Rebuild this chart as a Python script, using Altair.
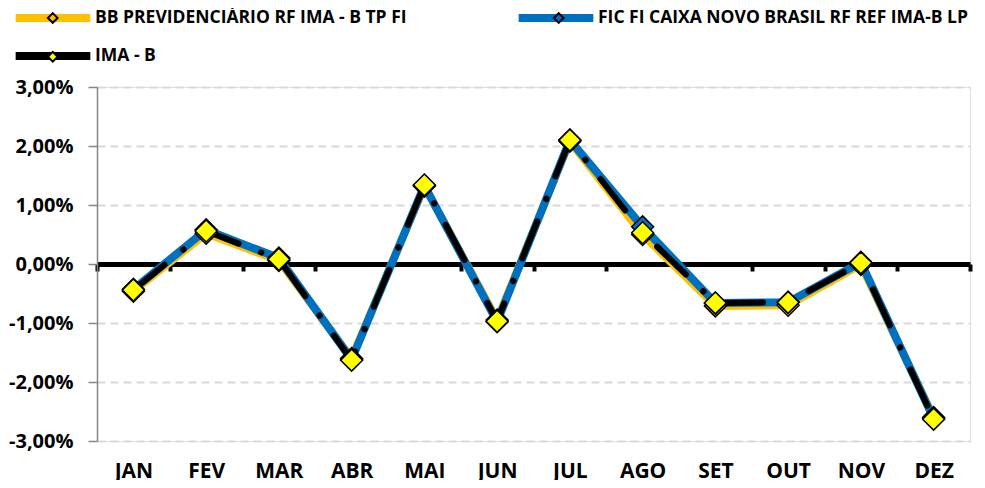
import altair as alt
import pandas as pd

months = ["JAN", "FEV", "MAR", "ABR", "MAI", "JUN", "JUL", "AGO", "SET", "OUT", "NOV", "DEZ"]
series_names = [
    "BB PREVIDENCIÁRIO RF IMA - B TP FI",
    "FIC FI CAIXA NOVO BRASIL RF REF IMA-B LP",
    "IMA - B",
]
bb_values = [-0.46, 0.52, 0.06, -1.60, 1.32, -0.95, 2.08, 0.50, -0.71, -0.70, -0.01, -2.60]
fic_values = [-0.43, 0.58, 0.10, -1.62, 1.33, -0.98, 2.10, 0.63, -0.66, -0.65, 0.03, -2.62]
ima_values = [-0.44, 0.56, 0.08, -1.63, 1.34, -0.97, 2.10, 0.53, -0.66, -0.65, 0.02, -2.63]
line_colors = ["#FFC000", "#0070C0", "#000000"]
marker_colors = ["#FFC000", "#0070C0", "#FFFF00"]
y_ticks = [-3, -2, -1, 0, 1, 2, 3]

# marker legend uses keys with a trailing space so that Vega-Lite keeps it a separate legend
marker_keys = [s + " " for s in series_names]

rows = []
for name, key, vals in zip(series_names, marker_keys, [bb_values, fic_values, ima_values]):
    for m, v in zip(months, vals):
        rows.append({"month": m, "series": name, "serie_m": key, "value": v})
df = pd.DataFrame(rows)

FONT = "Open Sans"

x_enc = alt.X(
    "month:N",
    sort=months,
    scale=alt.Scale(type="band", paddingInner=0, paddingOuter=0),
    axis=alt.Axis(
        title=None, offset=-177, domainColor="black", domainWidth=5,
        tickColor="black", tickWidth=4, tickSize=7, tickBand="extent",
        labelPadding=189, labelAngle=0, labelFont=FONT, labelFontWeight="bold",
        labelFontSize=21, labelColor="black", grid=False,
    ),
)
y_enc = alt.Y(
    "value:Q",
    scale=alt.Scale(domain=[-3, 3], nice=False),
    axis=alt.Axis(
        title=None, values=y_ticks, domainColor="#868686", domainWidth=1.5,
        tickColor="#868686", tickWidth=1.5, tickSize=9, labelPadding=15,
        labelFont=FONT, labelFontWeight="bold", labelFontSize=20, labelColor="black",
        labelExpr="replace(replace(format(datum.value, '.2f'), '.', ','), '\u2212', '-') + '%'",
        grid=True, gridColor="#D9D9D9", gridWidth=2, gridDash=[8, 5],
    ),
)

legend_common = dict(
    title=None, orient="none", direction="horizontal", columns=2, labelFont=FONT,
    labelFontWeight="bold", labelFontSize=17.5, labelLimit=600,
    padding=0, offset=0, symbolOpacity=1, labelOffset=33,
)

line_legend = alt.Legend(
    symbolType="M-7.47,0L7.47,0", symbolSize=100, symbolStrokeWidth=8,
    rowPadding=6, columnPadding=95, legendX=-53, legendY=-78,
    labelColor="black", **legend_common
)
marker_legend = alt.Legend(
    symbolType="diamond", symbolSize=94, symbolStrokeWidth=2,
    symbolStrokeColor="black", rowPadding=20, columnPadding=142,
    legendX=-53, legendY=-78,
    labelColor="transparent", labelExpr="trim(datum.label)", zindex=2, **legend_common
)

color_enc = alt.Color(
    "series:N", sort=series_names,
    scale=alt.Scale(domain=series_names, range=line_colors),
    legend=line_legend,
)

base = alt.Chart(df)

bb_line = base.transform_filter(alt.datum.series == series_names[0]).mark_line(
    strokeWidth=8, strokeJoin="round", strokeCap="round"
).encode(x=x_enc, y=y_enc, color=color_enc)
fic_line = base.transform_filter(alt.datum.series == series_names[1]).mark_line(
    strokeWidth=8, strokeJoin="round", strokeCap="round"
).encode(x=x_enc, y=y_enc, color=color_enc)
ima_line = base.transform_filter(alt.datum.series == series_names[2]).mark_line(
    strokeWidth=6, strokeJoin="round", strokeCap="round", strokeDash=[40, 24, 0.5, 24]
).encode(x=x_enc, y=y_enc, color=color_enc)

points = base.mark_point(
    shape="diamond", filled=True, size=480, stroke="black", strokeWidth=1.5, opacity=1
).encode(
    x=x_enc, y=y_enc,
    fill=alt.Fill(
        "serie_m:N", sort=marker_keys,
        scale=alt.Scale(domain=marker_keys, range=marker_colors),
        legend=marker_legend,
    ),
)

chart = alt.layer(bb_line, fic_line, ima_line, points).properties(
    width=873, height=354,
    autosize=alt.AutoSizeParams(type="none"),
    padding={"left": 89, "top": 79, "right": 7, "bottom": 39},
).configure_view(stroke=None).configure(background="white")

chart.save("out.html", embed_options={"renderer": "svg", "actions": False})
